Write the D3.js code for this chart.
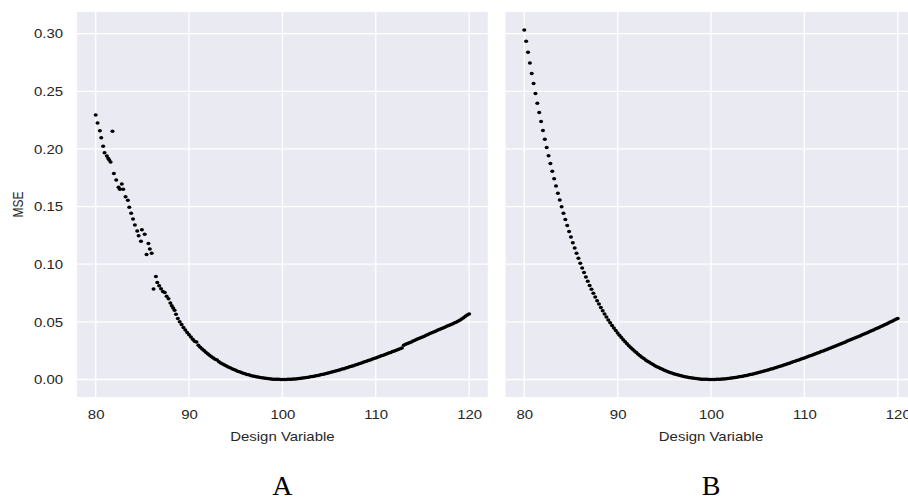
<!DOCTYPE html>
<html>
<head>
<meta charset="utf-8">
<script src="https://cdn.jsdelivr.net/npm/d3@7/dist/d3.min.js"></script>
<style>
  html, body { margin: 0; padding: 0; background: #ffffff; }
  svg { display: block; }
</style>
</head>
<body>
<svg id="chart" width="908" height="501"></svg>
<script>
// ---- axes ----
const xTicks = [80, 90, 100, 110, 120];
const yTicks = [0, 0.05, 0.10, 0.15, 0.20, 0.25, 0.30];
const xDomain = [78, 122];
const yDomain = [-0.0152, 0.3188];
const panelLabels = ["A", "B"];
const xTitle = "Design Variable";
const yTitle = "MSE";

// ---- panel A: scattered left branch (design variable, MSE) ----
const aHeadX = [80.0, 80.2, 80.45, 80.6, 80.8, 80.95, 81.2, 81.35, 81.45, 81.6,
  81.8, 81.95, 82.2, 82.45, 82.6, 82.8, 82.95, 83.2, 83.45, 83.6,
  83.8, 84.0, 84.2, 84.45, 84.6, 84.85, 84.95, 85.25, 85.45, 85.65,
  85.8, 86.0, 86.2, 86.45, 86.6, 86.8, 87.0, 87.2, 87.4, 87.6,
  87.8, 88.0, 88.15, 88.3, 88.45, 88.6, 88.8];
const aHeadY = [0.2295, 0.2226, 0.2157, 0.2096, 0.2024, 0.1966, 0.1938, 0.1918, 0.1903, 0.1886,
  0.2154, 0.1788, 0.1730, 0.1667, 0.1650, 0.1696, 0.1650, 0.1586, 0.1554, 0.1494,
  0.1442, 0.1393, 0.1341, 0.1289, 0.1246, 0.1200, 0.1298, 0.1260, 0.1084, 0.1179,
  0.1133, 0.1096, 0.0785, 0.0894, 0.0842, 0.0813, 0.0788, 0.0764, 0.0755, 0.0721,
  0.0700, 0.0663, 0.0640, 0.0620, 0.0600, 0.0565, 0.0530];

// ---- panel A: remaining sweep, 89.0 .. 120.0 every 0.2 ----
const aTailStart = 89.0;
const sweepStep = 0.2;
const aTailY = [
  0.0500, 0.0476, 0.0452, 0.0430, 0.0408, 0.0388, 0.0368, 0.0349, 0.0331, 0.0325,
  0.0296, 0.0280, 0.0265, 0.0251, 0.0237, 0.0223, 0.0210, 0.0198, 0.0186, 0.0175,
  0.0170, 0.0154, 0.0144, 0.0135, 0.0126, 0.0117, 0.0109, 0.0101, 0.0093, 0.0086,
  0.0079, 0.0072, 0.0066, 0.0060, 0.0055, 0.0049, 0.0044, 0.0040, 0.0035, 0.0031,
  0.0027, 0.0024, 0.0021, 0.0018, 0.0015, 0.0012, 0.0010, 0.0008, 0.0006, 0.0004,
  0.0003, 0.0002, 0.0001, 0.0001, 0.0000, 0.0000,
  0.0000, 0.0000, 0.0001, 0.0002, 0.0003, 0.0004, 0.0005, 0.0007, 0.0009, 0.0011,
  0.0013, 0.0015, 0.0017, 0.0020, 0.0023, 0.0026, 0.0029, 0.0032, 0.0035, 0.0039,
  0.0043, 0.0046, 0.0050, 0.0054, 0.0058, 0.0062, 0.0067, 0.0071, 0.0076, 0.0080,
  0.0085, 0.0090, 0.0094, 0.0099, 0.0104, 0.0110, 0.0115, 0.0120, 0.0125, 0.0131,
  0.0136, 0.0141, 0.0147, 0.0153, 0.0158, 0.0164, 0.0170, 0.0176, 0.0182, 0.0187,
  0.0193, 0.0199, 0.0205, 0.0211, 0.0217, 0.0223, 0.0229, 0.0235, 0.0242, 0.0248,
  0.0254, 0.0261, 0.0267, 0.0273,
  0.0298, 0.0305, 0.0312, 0.0319, 0.0326, 0.0333, 0.0341, 0.0348, 0.0355, 0.0362,
  0.0369, 0.0376, 0.0383, 0.0390, 0.0398, 0.0405, 0.0412, 0.0419, 0.0426, 0.0433,
  0.0440, 0.0447, 0.0454, 0.0461, 0.0468, 0.0475, 0.0482, 0.0489, 0.0497, 0.0505,
  0.0514, 0.0524, 0.0536, 0.0548, 0.0560, 0.0568];

// ---- panel B: full sweep, 80.0 .. 120.0 every 0.2 ----
const bStart = 80.0;
const bY = [
  0.3032, 0.2934, 0.2839, 0.2746, 0.2655, 0.2567, 0.2481, 0.2397, 0.2316, 0.2237,
  0.2160, 0.2085, 0.2012, 0.1941, 0.1873, 0.1806, 0.1741, 0.1678, 0.1616, 0.1557,
  0.1499, 0.1443, 0.1388, 0.1336, 0.1284, 0.1235, 0.1187, 0.1140, 0.1095, 0.1051,
  0.1009, 0.0968, 0.0928, 0.0889, 0.0852, 0.0816, 0.0782, 0.0748, 0.0715, 0.0684,
  0.0654, 0.0624, 0.0596, 0.0569, 0.0543, 0.0517, 0.0493, 0.0469, 0.0446, 0.0425,
  0.0404, 0.0383, 0.0364, 0.0345, 0.0327, 0.0310, 0.0293, 0.0277, 0.0262, 0.0247,
  0.0233, 0.0219, 0.0206, 0.0193, 0.0182, 0.0170, 0.0159, 0.0149, 0.0139, 0.0129,
  0.0120, 0.0111, 0.0103, 0.0095, 0.0088, 0.0081, 0.0074, 0.0067, 0.0061, 0.0056,
  0.0050, 0.0045, 0.0040, 0.0036, 0.0032, 0.0028, 0.0024, 0.0021, 0.0018, 0.0015,
  0.0012, 0.0010, 0.0008, 0.0006, 0.0004, 0.0003, 0.0002, 0.0001, 0.0001, 0.0000,
  0.0000,
  0.0000, 0.0000, 0.0001, 0.0002, 0.0003, 0.0004, 0.0005, 0.0007, 0.0009, 0.0011,
  0.0013, 0.0015, 0.0017, 0.0020, 0.0023, 0.0026, 0.0029, 0.0032, 0.0035, 0.0039,
  0.0043, 0.0046, 0.0050, 0.0054, 0.0058, 0.0062, 0.0067, 0.0071, 0.0076, 0.0080,
  0.0085, 0.0090, 0.0094, 0.0099, 0.0104, 0.0110, 0.0115, 0.0120, 0.0125, 0.0131,
  0.0136, 0.0141, 0.0147, 0.0153, 0.0158, 0.0164, 0.0170, 0.0176, 0.0182, 0.0187,
  0.0193, 0.0199, 0.0205, 0.0211, 0.0217, 0.0223, 0.0229, 0.0235, 0.0242, 0.0248,
  0.0254, 0.0261, 0.0267, 0.0273, 0.0280, 0.0286, 0.0293, 0.0300, 0.0306, 0.0313,
  0.0319, 0.0326, 0.0333, 0.0340, 0.0346, 0.0353, 0.0360, 0.0366, 0.0373, 0.0380,
  0.0387, 0.0394, 0.0401, 0.0408, 0.0416, 0.0423, 0.0430, 0.0437, 0.0444, 0.0452,
  0.0459, 0.0467, 0.0475, 0.0482, 0.0490, 0.0498, 0.0506, 0.0514, 0.0522, 0.0530];

// ---- assemble point lists ----
const sweepX = (start, i) => +(start + i * sweepStep).toFixed(1);
const pointsA = aHeadX.map((x, i) => ({ x, y: aHeadY[i] }))
  .concat(aTailY.map((y, i) => ({ x: sweepX(aTailStart, i), y })));
const pointsB = bY.map((y, i) => ({ x: sweepX(bStart, i), y }));

// ---- layout ----
const plotTop = 12, plotH = 385, plotW = 410.8;
const stretch = 1.15;            // horizontal text stretch of the figure
const tickFont = "'Liberation Sans', Arial, sans-serif";
const panels = [
  { label: panelLabels[0], left: 77.0, points: pointsA, showY: true },
  { label: panelLabels[1], left: 505.6, points: pointsB, showY: false }
];

const svg = d3.select("#chart");

panels.forEach(p => {
  const x = d3.scaleLinear().domain(xDomain).range([0, plotW]);
  const y = d3.scaleLinear().domain(yDomain).range([plotH, 0]);
  const g = svg.append("g").attr("transform", `translate(${p.left},${plotTop})`);

  g.append("rect").attr("width", plotW).attr("height", plotH).attr("fill", "#EAEAF2");

  g.append("g").selectAll("line").data(xTicks).join("line")
    .attr("x1", d => x(d)).attr("x2", d => x(d))
    .attr("y1", 0).attr("y2", plotH)
    .attr("stroke", "#ffffff").attr("stroke-width", 1.3);
  g.append("g").selectAll("line").data(yTicks).join("line")
    .attr("x1", 0).attr("x2", plotW)
    .attr("y1", d => y(d)).attr("y2", d => y(d))
    .attr("stroke", "#ffffff").attr("stroke-width", 1.3);

  // x axis
  const xa = g.append("g").attr("transform", `translate(0,${plotH})`)
    .call(d3.axisBottom(x).tickValues(xTicks).tickSize(0).tickPadding(13).tickFormat(d3.format("d")));
  xa.select(".domain").remove();
  xa.selectAll("text")
    .attr("transform", `scale(${stretch},1)`)
    .attr("fill", "#262626").style("font-family", tickFont).style("font-size", "13px");

  g.append("text")
    .attr("transform", `translate(${plotW / 2},${plotH + 44}) scale(${stretch},1)`)
    .attr("text-anchor", "middle")
    .attr("fill", "#262626").style("font-family", tickFont).style("font-size", "13px")
    .text(xTitle);

  if (p.showY) {
    const ya = g.append("g")
      .call(d3.axisLeft(y).tickValues(yTicks).tickSize(0).tickPadding(14).tickFormat(d3.format(".2f")));
    ya.select(".domain").remove();
    ya.selectAll("text")
      .attr("x", -14 / stretch)
      .attr("transform", `scale(${stretch},1)`)
      .attr("fill", "#262626").style("font-family", tickFont).style("font-size", "13px");

    g.append("text")
      .attr("transform", `translate(-54,${plotH / 2}) scale(${stretch},1) rotate(-90)`)
      .attr("text-anchor", "middle")
      .attr("fill", "#262626").style("font-family", tickFont).style("font-size", "12px")
      .text(yTitle);
  }

  // scatter points
  g.append("g").selectAll("ellipse").data(p.points).join("ellipse")
    .attr("cx", d => x(d.x)).attr("cy", d => y(d.y))
    .attr("rx", 2.05).attr("ry", 1.75)
    .attr("fill", "#000000");

  // panel caption
  svg.append("text")
    .attr("x", p.left + plotW / 2).attr("y", 495)
    .attr("text-anchor", "middle")
    .attr("fill", "#000000")
    .style("font-family", "'Liberation Serif', 'Times New Roman', serif")
    .style("font-size", "28px")
    .text(p.label);
});
</script>
</body>
</html>
